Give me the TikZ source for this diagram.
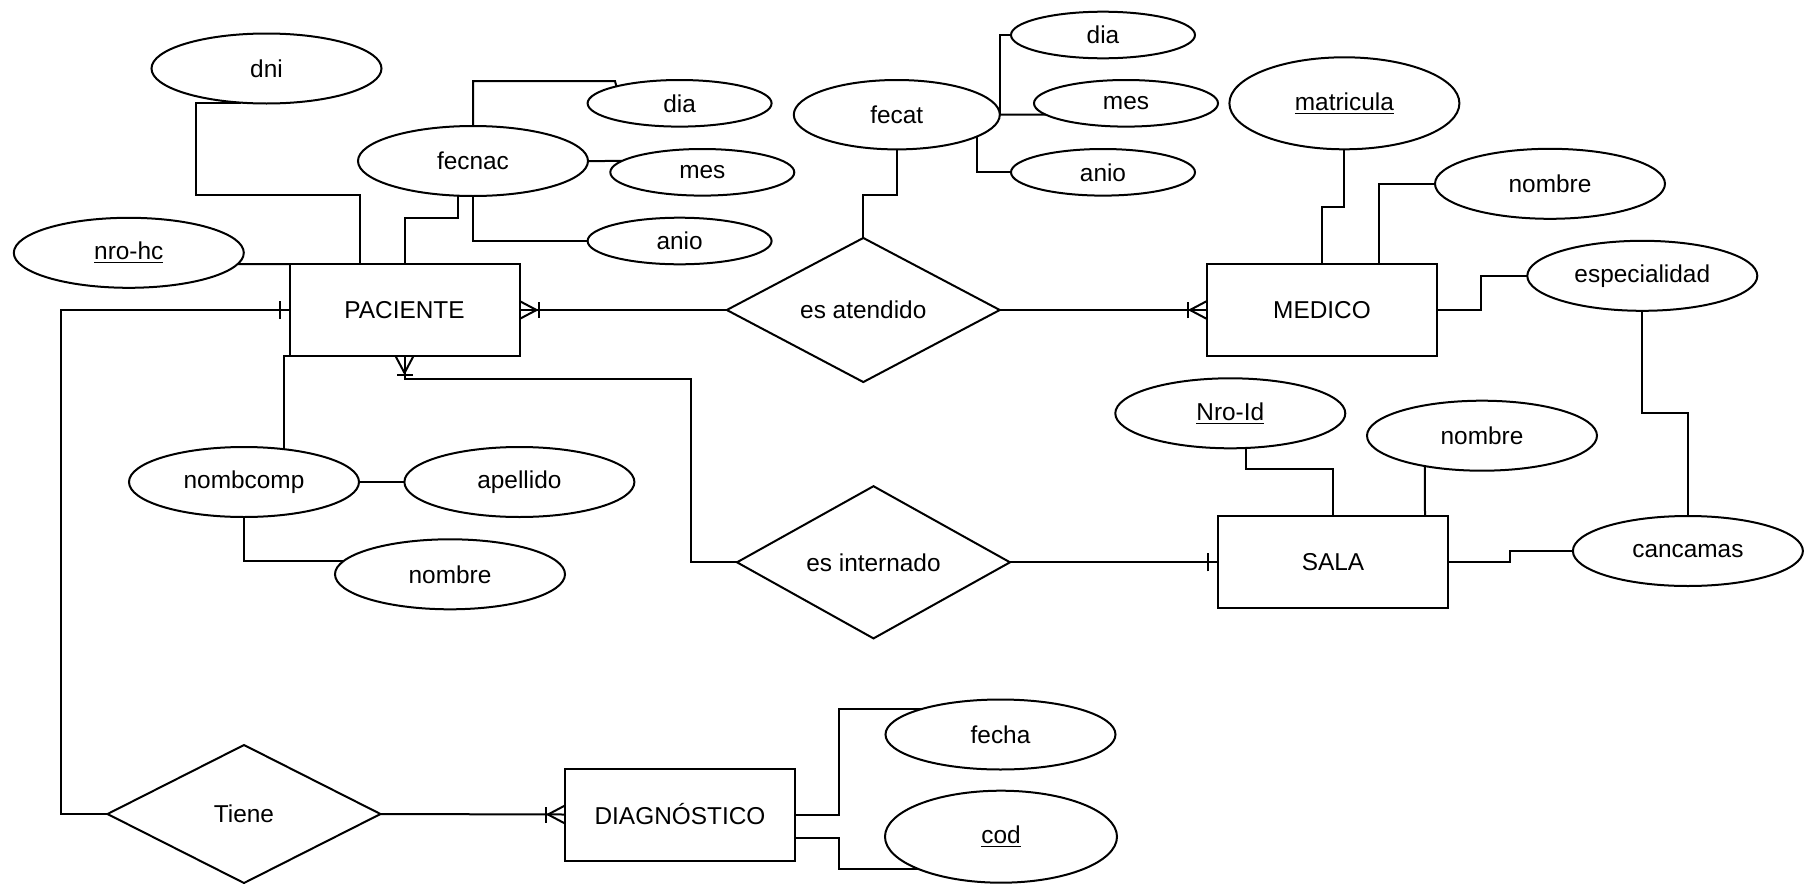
\documentclass[tikz,border=0pt]{standalone}
\usepackage{fontspec}
\setmainfont{Liberation Sans}
\usetikzlibrary{shapes.geometric,calc}
\begin{document}
\begin{tikzpicture}[x=0.5pt,y=-0.5pt,
  font=\fontsize{12.2}{14}\selectfont,
  conn/.style={draw=black, line width=1pt},
  ent/.style={draw, line width=1pt, rectangle, minimum width=115pt, minimum height=46pt, inner sep=0pt, outer sep=0pt},
  rel/.style={draw, line width=1pt, diamond, minimum width=136.5pt, minimum height=69pt, inner sep=0pt, outer sep=0pt},
  attr/.style={draw, line width=1pt, ellipse, minimum width=115pt, minimum height=35pt, inner sep=0pt, outer sep=0pt},
  sattr/.style={attr, minimum width=92pt, minimum height=23.3pt},
  pics/crowfoot/.style={code={\draw[conn] (0,-9) -- (17,0) -- (0,9); \draw[conn] (19,-8) -- (19,8);}},
  pics/onebar/.style={code={\draw[conn] (10,-9) -- (10,9);}}
]
\useasboundingbox (0,0) rectangle (1806,884);
% entities
\node[ent] (pac) at (404.5,310) {PACIENTE};
\node[ent] (med) at (1322,310) {MEDICO};
\node[ent] (sala) at (1333,562.3) {SALA};
\node[ent] (diag) at (680,814.5) {DIAGNÓSTICO};
% relationships
\node[rel] (aten) at (863.3,310) {es atendido};
\node[rel] (intern) at (873.5,562.3) {es internado};
\node[rel] (tiene) at (244,814) {Tiene};
% attributes
\node[attr] (dni) at (266.5,68.5) {dni};
\node[attr] (nrohc) at (128.8,252.8) {\underline{nro-hc}};
\node[attr] (fecnac) at (473,161) {fecnac};
\node[sattr] (dia1) at (679.6,103.3) {dia};
\node[sattr] (mes1) at (702.3,172.3) {mes};
\node[sattr] (anio1) at (679.6,241) {anio};
\node[attr, minimum width=103pt, minimum height=34.7pt] (fecat) at (896.8,114.7) {fecat};
\node[sattr] (dia2) at (1103,35) {dia};
\node[sattr] (mes2) at (1126,103.3) {mes};
\node[sattr] (anio2) at (1103,172.3) {anio};
\node[attr, minimum height=46pt] (matr) at (1344.4,103.3) {\underline{matricula}};
\node[attr] (nommed) at (1550,183.8) {nombre};
\node[attr] (esp) at (1642.3,275.8) {especialidad};
\node[attr] (nroid) at (1230.3,413.3) {\underline{Nro-Id}};
\node[attr] (nomsala) at (1482,435.7) {nombre};
\node[attr] (canc) at (1687.9,551) {cancamas};
\node[attr] (nombcomp) at (244,482) {nombcomp};
\node[attr] (apel) at (519.4,482) {apellido};
\node[attr] (nomnc) at (450,574.3) {nombre};
\node[attr] (fecha) at (1000.5,734.5) {fecha};
\node[attr, minimum width=116pt, minimum height=46pt] (cod) at (1001,836.7) {\underline{cod}};
% connectors: PACIENTE attributes
\draw[conn] (dni.233) -| (196,195) -| ($(pac.north)+(-44.5,0)$);
\draw[conn] (nrohc.-6) -- (pac.north west);
\draw[conn] (fecnac.247) |- (404.5,218) -- (pac.north);
\draw[conn] (fecnac.north) |- (615,81) -- (dia1.165.6);
\draw[conn] (fecnac.east) -- (mes1.172);
\draw[conn] (fecnac.south) |- (anio1.west);
\draw[conn] (pac.south west) -| (nombcomp.39.8);
\draw[conn] (nombcomp.east) -- (apel.west);
\draw[conn] (nombcomp.south) |- (nomnc.173.6);
% es atendido
\draw[conn] (aten.west) -- (pac.east);
\pic at (pac.east) {crowfoot};
\draw[conn] (aten.east) -- (med.west);
\pic[rotate=180] at (med.west) {crowfoot};
\draw[conn] (fecat.south) |- (863.3,195) -- (aten.north);
\draw[conn] (fecat.east) |- (dia2.west);
\draw[conn] (fecat.east) -- (mes2.188.3);
\draw[conn] (fecat.-15.1) |- (anio2.west);
% MEDICO attributes
\draw[conn] (matr.south) |- (1322,207.3) -- (med.north);
\draw[conn] (nommed.west) -| ($(med.north)+(57.3,0)$);
\draw[conn] (med.east) -- (1480.8,310) |- (esp.west);
\draw[conn] (esp.south) |- (1687.9,412.7) -- (canc.north);
% SALA
\draw[conn] (sala.east) -- (1509.8,562.3) |- (canc.west);
\draw[conn] (nroid.-66.1) |- (1333,469.3) -- (sala.north);
\draw[conn] (nomsala.208.1) -- ($(sala.north)+(92,0)$);
% es internado
\draw[conn] (pac.south) |- (691.3,379) |- (intern.west);
\pic[rotate=-90] at (pac.south) {crowfoot};
\draw[conn] (intern.east) -- (sala.west);
\pic[rotate=180] at (sala.west) {onebar};
% Tiene
\draw[conn] (tiene.west) -- (61.2,814) |- (pac.west);
\pic[rotate=180] at (pac.west) {onebar};
\draw[conn] (tiene.east) -- (diag.west);
\pic[rotate=180] at (diag.west) {crowfoot};
% DIAGNOSTICO attributes
\draw[conn] (diag.east) -- (839,814.5) |- (fecha.162.6);
\draw[conn] ($(diag.east)+(0,23.8)$) -- (839,838.3) |- (cod.201.7);
\end{tikzpicture}
\end{document}
